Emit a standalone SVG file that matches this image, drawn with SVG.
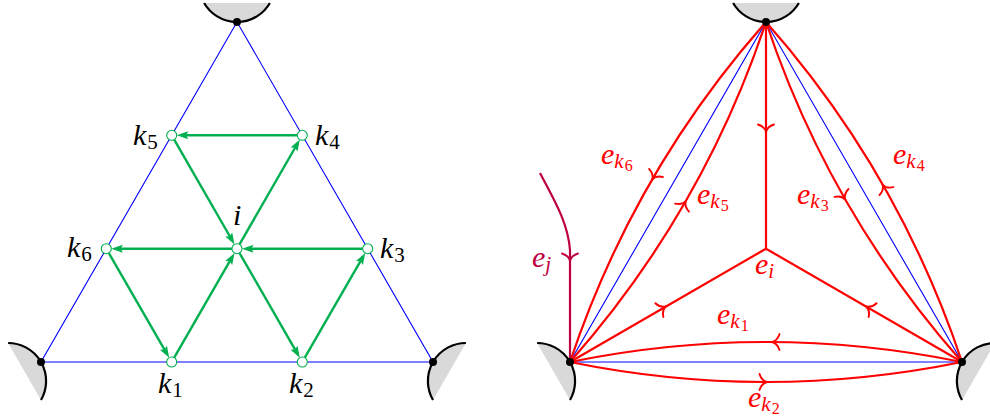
<svg xmlns="http://www.w3.org/2000/svg" width="990" height="419" viewBox="0 0 990 419">
<style>
.cap{fill:#d9d9d9;stroke:none}
.arc{fill:none;stroke:#000;stroke-width:2.2}
.dot{fill:#000}
.blue{fill:none;stroke:#0000ff;stroke-width:1.1}
.g{stroke:#00b050;stroke-width:2.4;fill:none;marker-end:url(#gh)}
.gn{fill:#fff;stroke:#00b050;stroke-width:1.1}
.red{fill:none;stroke:#ff0000;stroke-width:2.2;stroke-linejoin:round}
.pur{fill:none;stroke:#bf0040;stroke-width:2.2}
.ah{fill:none;stroke:#ff0000;stroke-width:1.9;stroke-linecap:round}
.ahp{fill:none;stroke:#bf0040;stroke-width:1.9;stroke-linecap:round}
.it{font-style:italic}
.s{font-size:21px}
.ss{font-size:16px}
.rt{fill:#ff0000}
.pt{fill:#bf0040}
</style>
<defs>
<marker id="gh" markerUnits="userSpaceOnUse" markerWidth="14" markerHeight="10" viewBox="-8 -5 13 10" refX="0" refY="0" orient="auto" overflow="visible">
<path d="M4.5,0 L-7,-4 L-5,0 L-7,4 Z" fill="#00b050"/>
</marker>
<path id="to" d="M-6.5,-8 C-5,-3.2 -1.8,-0.7 0.8,0 C-1.8,0.7 -5,3.2 -6.5,8"/>
</defs>

<!-- LEFT DIAGRAM -->
<g id="left-caps">
<path class="cap" d="M204.1,3 A38,38 0 0 0 269.9,3 Z"/>
<path class="arc" d="M204.1,3 A38,38 0 0 0 269.9,3"/>
<path class="cap" d="M8.1,343 A38,38 0 0 1 41,400 Z"/>
<path class="arc" d="M8.1,343 A38,38 0 0 1 41,400"/>
<path class="cap" d="M465.9,343 A38,38 0 0 0 433,400 Z"/>
<path class="arc" d="M465.9,343 A38,38 0 0 0 433,400"/>
</g>
<g id="left-triangle">
<path class="blue" d="M237,22 L41,362 L433,362 Z"/>
</g>
<g id="left-vertices">
<circle class="dot" cx="237" cy="22" r="4"/>
<circle class="dot" cx="41" cy="362" r="4"/>
<circle class="dot" cx="433" cy="362" r="4"/>
</g>
<g id="left-connectors">
<line class="g" x1="297.3" y1="135.3" x2="181.2" y2="135.3"/>
<line class="g" x1="174.2" y1="139.6" x2="232.25" y2="240.5"/>
<line class="g" x1="239.5" y1="244.4" x2="297.55" y2="143.5"/>
<line class="g" x1="362.7" y1="248.7" x2="246.5" y2="248.7"/>
<line class="g" x1="232" y1="248.7" x2="115.8" y2="248.7"/>
<line class="g" x1="108.8" y1="253" x2="166.95" y2="353.8"/>
<line class="g" x1="174.2" y1="357.7" x2="232.25" y2="256.9"/>
<line class="g" x1="239.5" y1="253" x2="297.55" y2="353.8"/>
<line class="g" x1="304.8" y1="357.7" x2="362.95" y2="256.9"/>
</g>
<g font-family="Liberation Serif, Times New Roman, serif" font-size="30" fill="#000">
<g id="node-i"><circle class="gn" cx="237" cy="248.7" r="5"/><text class="it" x="233" y="225">i</text></g>
<g id="node-k1"><circle class="gn" cx="171.7" cy="362" r="5"/><text x="158" y="393"><tspan class="it">k</tspan><tspan class="s" dx="1" dy="4">1</tspan></text></g>
<g id="node-k2"><circle class="gn" cx="302.3" cy="362" r="5"/><text x="289" y="393"><tspan class="it">k</tspan><tspan class="s" dx="1" dy="4">2</tspan></text></g>
<g id="node-k3"><circle class="gn" cx="367.7" cy="248.7" r="5"/><text x="380" y="258"><tspan class="it">k</tspan><tspan class="s" dx="1" dy="4">3</tspan></text></g>
<g id="node-k4"><circle class="gn" cx="302.3" cy="135.3" r="5"/><text x="315" y="145"><tspan class="it">k</tspan><tspan class="s" dx="1" dy="4">4</tspan></text></g>
<g id="node-k5"><circle class="gn" cx="171.7" cy="135.3" r="5"/><text x="133" y="145"><tspan class="it">k</tspan><tspan class="s" dx="1" dy="4">5</tspan></text></g>
<g id="node-k6"><circle class="gn" cx="106.3" cy="248.7" r="5"/><text x="67" y="257"><tspan class="it">k</tspan><tspan class="s" dx="1" dy="4">6</tspan></text></g>
</g>

<!-- RIGHT DIAGRAM -->
<g id="right-caps">
<path class="cap" d="M733.1,3 A38,38 0 0 0 798.9,3 Z"/>
<path class="arc" d="M733.1,3 A38,38 0 0 0 798.9,3"/>
<path class="cap" d="M537.1,343 A38,38 0 0 1 570,400 Z"/>
<path class="arc" d="M537.1,343 A38,38 0 0 1 570,400"/>
<path class="cap" d="M994.9,343 A38,38 0 0 0 962,400 Z"/>
<path class="arc" d="M994.9,343 A38,38 0 0 0 962,400"/>
</g>
<g id="right-triangle">
<path class="blue" d="M766,22 L570,362 L962,362 Z"/>
</g>
<g id="right-connectors">
<path id="edge-ei" class="red" d="M766,22 L766,248.7 L570,362 M766,248.7 L962,362"/>
<path id="edge-ek6" class="red" d="M766,22 Q633.4,172 570,362"/>
<path id="edge-ek5" class="red" d="M570,362 Q702.6,212 766,22"/>
<path id="edge-ek4" class="red" d="M962,362 Q898.6,172 766,22"/>
<path id="edge-ek3" class="red" d="M766,22 Q829.4,212 962,362"/>
<path id="edge-ek1" class="red" d="M962,362 Q766,322 570,362"/>
<path id="edge-ek2" class="red" d="M570,362 Q766,402 962,362"/>
<path id="edge-ej" class="pur" d="M540,173 C553,198 568,222 570,250 L570,362"/>
<use href="#to" class="ah" transform="translate(766,131) rotate(90)"/>
<use href="#to" class="ah" transform="translate(665,306.9) rotate(-30)"/>
<use href="#to" class="ah" transform="translate(867,306.9) rotate(-150)"/>
<use href="#to" class="ah" transform="translate(652.7,178.6) rotate(120.2)"/>
<use href="#to" class="ah" transform="translate(685.3,202) rotate(-60)"/>
<use href="#to" class="ah" transform="translate(883.2,185.5) rotate(-119.7)"/>
<use href="#to" class="ah" transform="translate(844.7,198.6) rotate(60.3)"/>
<use href="#to" class="ah" transform="translate(773,342) rotate(180.4)"/>
<use href="#to" class="ah" transform="translate(766,382) rotate(0)"/>
<use href="#to" class="ahp" transform="translate(570,260) rotate(90)"/>
</g>
<g id="right-vertices">
<circle class="dot" cx="766" cy="22" r="4"/>
<circle class="dot" cx="570" cy="362" r="4"/>
<circle class="dot" cx="962" cy="362" r="4"/>
</g>
<g id="right-labels" font-family="Liberation Serif, Times New Roman, serif" font-size="30">
<text class="rt" x="601" y="164"><tspan class="it">e</tspan><tspan class="it s" dy="4">k</tspan><tspan class="ss" dx="1" dy="3">6</tspan></text>
<text class="rt" x="697" y="204"><tspan class="it">e</tspan><tspan class="it s" dy="4">k</tspan><tspan class="ss" dx="1" dy="3">5</tspan></text>
<text class="rt" x="797" y="204"><tspan class="it">e</tspan><tspan class="it s" dy="4">k</tspan><tspan class="ss" dx="1" dy="3">3</tspan></text>
<text class="rt" x="893" y="164"><tspan class="it">e</tspan><tspan class="it s" dy="4">k</tspan><tspan class="ss" dx="1" dy="3">4</tspan></text>
<text class="rt" x="717" y="324"><tspan class="it">e</tspan><tspan class="it s" dy="4">k</tspan><tspan class="ss" dx="1" dy="3">1</tspan></text>
<text class="rt" x="748" y="407"><tspan class="it">e</tspan><tspan class="it s" dy="4">k</tspan><tspan class="ss" dx="1" dy="3">2</tspan></text>
<text class="rt" x="755" y="274"><tspan class="it">e</tspan><tspan class="it s" dy="4">i</tspan></text>
<text class="pt" x="532" y="267"><tspan class="it">e</tspan><tspan class="it s" dy="4">j</tspan></text>
</g>
</svg>
